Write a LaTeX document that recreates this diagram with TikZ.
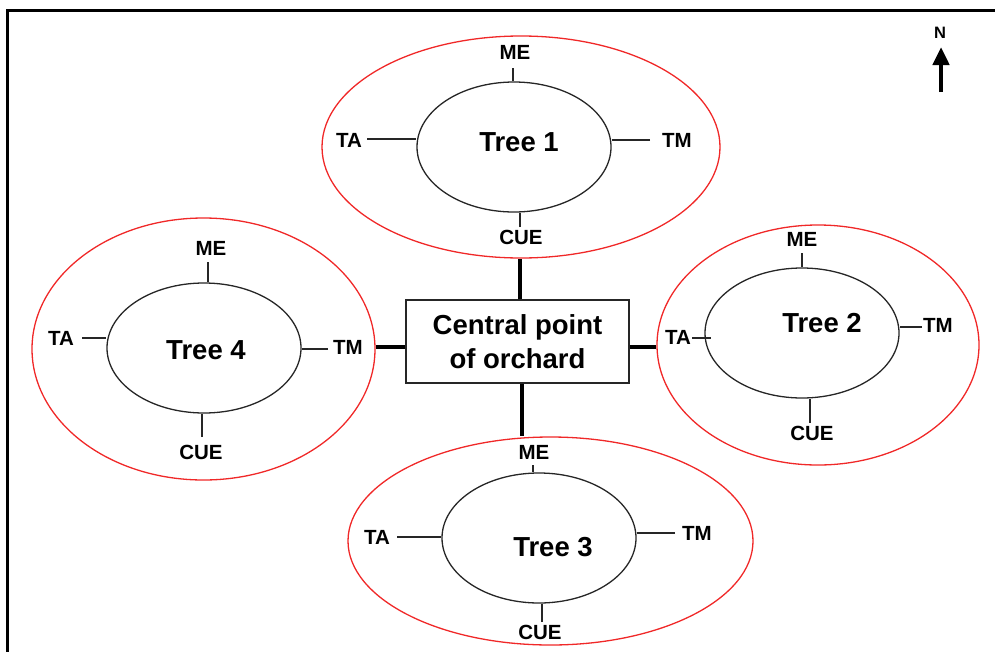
\documentclass[tikz,border=0pt]{standalone}
\usepackage{fontspec}
\setmainfont{Liberation Sans}
\usetikzlibrary{shapes.geometric,arrows.meta}
\definecolor{ringred}{RGB}{240,40,40}
\tikzset{
  outerring/.style={ellipse,draw=ringred,line width=1.3pt,inner sep=0pt},
  treering/.style={ellipse,draw=black!85,line width=1.3pt,inner sep=0pt,minimum width=194pt,minimum height=130pt},
  lbl/.style={inner sep=0pt,font=\fontsize{20.5}{21}\selectfont\bfseries},
  treetxt/.style={inner sep=0pt,font=\fontsize{27.5}{29}\selectfont\bfseries},
  tick/.style={line width=1.3pt,black!85},
  hub/.style={line width=4.5pt},
}
\begin{document}
\begin{tikzpicture}[x=1pt,y=-1pt]
\useasboundingbox (0,0) rectangle (995,651);
% frame
\draw[line width=3pt] (7.5,652) -- (7.5,10) -- (996,10);
% north arrow
\node[inner sep=0pt,font=\fontsize{16.5}{16}\selectfont\bfseries] (north) at (940,33) {N};
\coordinate (nbot) at (941,92);
\coordinate (ntip) at (941,47);
\draw[line width=4.5pt,-{Triangle[length=18pt,width=16pt]}] (nbot) -- (ntip);

% outer rings
\node[outerring,minimum width=398pt,minimum height=222pt] (o1) at (521,147) {};
\node[outerring,minimum width=322pt,minimum height=240pt] (o2) at (818,345) {};
\node[outerring,minimum width=405pt,minimum height=208pt] (o3) at (550.5,541) {};
\node[outerring,minimum width=343pt,minimum height=262pt] (o4) at (203.5,349) {};

% inner tree ellipses
\node[treering] (t1) at (514,147) {};
\node[treering] (t2) at (802,333) {};
\node[treering] (t3) at (539,538) {};
\node[treering] (t4) at (204,348) {};
\node[treetxt] (tx1) at (519,142) {Tree 1};
\node[treetxt] (tx2) at (822,323) {Tree 2};
\node[treetxt] (tx3) at (553,547) {Tree 3};
\node[treetxt] (tx4) at (206,350) {Tree 4};

% central box
\node[draw=black!85,line width=1.3pt,minimum width=223pt,minimum height=83pt,inner sep=0pt,align=center,
      font=\fontsize{27.5}{34}\selectfont\bfseries] (c) at (517.5,341.5) {Central point\\of orchard};
\draw[hub] (c.north -| 520,0) -- (o1.south -| 520,0);
\draw[hub] (c.south -| 522,0) -- (o3.north -| 522,0);
\draw[hub] (c.west |- 0,347) -- (o4.east |- 0,347);
\draw[hub] (c.east |- 0,347) -- (o2.west |- 0,347);

% Tree 1 labels
\node[lbl] (me1) at (515,52) {ME};
\node[lbl] (ta1) at (349,140) {TA};
\node[lbl] (tm1) at (677,140) {TM};
\node[lbl] (cue1) at (521,237) {CUE};
\coordinate (me1e) at (513,68);
\coordinate (ta1e) at (367,139);
\coordinate (tm1e) at (650,140);
\coordinate (cue1e) at (520,227);
\draw[tick] (me1e) -- (me1e |- t1.north);
\draw[tick] (ta1e) -- (ta1e -| t1.west);
\draw[tick] (tm1e) -- (tm1e -| t1.east);
\draw[tick] (cue1e) -- (cue1e |- t1.south);

% Tree 2 labels
\node[lbl] (me2) at (802,239) {ME};
\node[lbl] (ta2) at (678,337) {TA};
\node[lbl] (tm2) at (938,325.5) {TM};
\node[lbl] (cue2) at (812,433) {CUE};
\coordinate (me2e) at (802,253);
\coordinate (ta2e) at (692,338);
\coordinate (tm2e) at (922,327);
\coordinate (cue2e) at (810,423);
\draw[tick] (me2e) -- (me2e |- t2.north);
\draw[tick] (ta2e) -- ([xshift=7pt]ta2e -| t2.west);
\draw[tick] (tm2e) -- (tm2e -| t2.east);
\draw[tick] (cue2e) -- (cue2e |- t2.south);

% Tree 3 labels
\node[lbl] (me3) at (534,452) {ME};
\node[lbl] (ta3) at (377,537) {TA};
\node[lbl] (tm3) at (697,533) {TM};
\node[lbl] (cue3) at (540,632) {CUE};
\coordinate (me3e) at (533,465);
\coordinate (ta3e) at (397,537);
\coordinate (tm3e) at (675,533);
\coordinate (cue3e) at (542,622);
\draw[tick] (me3e) -- (me3e |- t3.north);
\draw[tick] (ta3e) -- (ta3e -| t3.west);
\draw[tick] (tm3e) -- (tm3e -| t3.east);
\draw[tick] (cue3e) -- (cue3e |- t3.south);

% Tree 4 labels
\node[lbl] (me4) at (211,248) {ME};
\node[lbl] (ta4) at (61,338) {TA};
\node[lbl] (tm4) at (348,347) {TM};
\node[lbl] (cue4) at (201,452) {CUE};
\coordinate (me4e) at (208,262);
\coordinate (ta4e) at (82,338);
\coordinate (tm4e) at (328,349);
\coordinate (cue4e) at (202,437);
\draw[tick] (me4e) -- (me4e |- t4.north);
\draw[tick] (ta4e) -- (ta4e -| t4.west);
\draw[tick] (tm4e) -- (tm4e -| t4.east);
\draw[tick] (cue4e) -- (cue4e |- t4.south);
\end{tikzpicture}
\end{document}
